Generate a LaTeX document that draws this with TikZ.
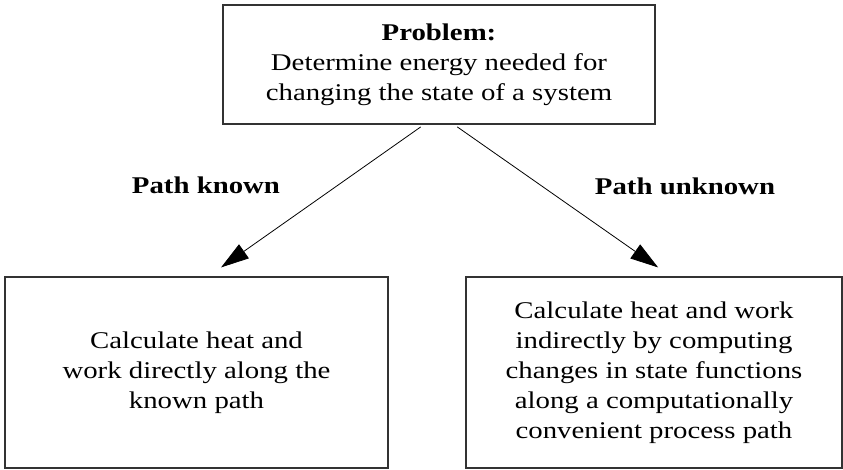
\documentclass[tikz,border=0pt]{standalone}
\usepackage{fontspec}
\setmainfont{Liberation Serif}[FakeStretch=1.2]
\usepackage{tikz}
\usetikzlibrary{arrows.meta}
\usetikzlibrary{positioning}

\begin{document}
\begin{tikzpicture}[x=1pt,y=1pt,
		box/.style={draw=black!80,line width=1.2pt,align=center,inner sep=0pt,
			font=\fontsize{24}{30}\selectfont},
		lbl/.style={font=\fontsize{24}{30}\selectfont\bfseries},
		arr/.style={-{Triangle[length=28pt,width=17pt]},line width=0.8pt,
			shorten >=15.6pt,shorten <=4pt}
	]
	\useasboundingbox (0,0) rectangle (843,-470);

	% the question on top
	\node[box,minimum width=432,minimum height=119] (problem) at (439,-64.5)
		{\textbf{Problem:}\\Determine energy needed for\\changing the state of a system};

	% the two ways
	\node[box,minimum width=383,minimum height=191] (known) at (196.5,-372.5)
		{Calculate heat and\\work directly along the\\known path};
	\node[box,minimum width=376,minimum height=191] (unknown) at (654,-372.5)
		{Calculate heat and work\\indirectly by computing\\changes in state functions\\along a computationally\\convenient process path};

	% the labels
	\node[lbl] (lknown) at (206,-185) {Path known};
	\node[lbl] (lunknown) at (685,-186) {Path unknown};

	% the edges
	\draw[arr] (problem.256.1) -- (known.83.6);
	\draw[arr] (problem.284.5) -- (unknown.80.7);
\end{tikzpicture}
\end{document}
